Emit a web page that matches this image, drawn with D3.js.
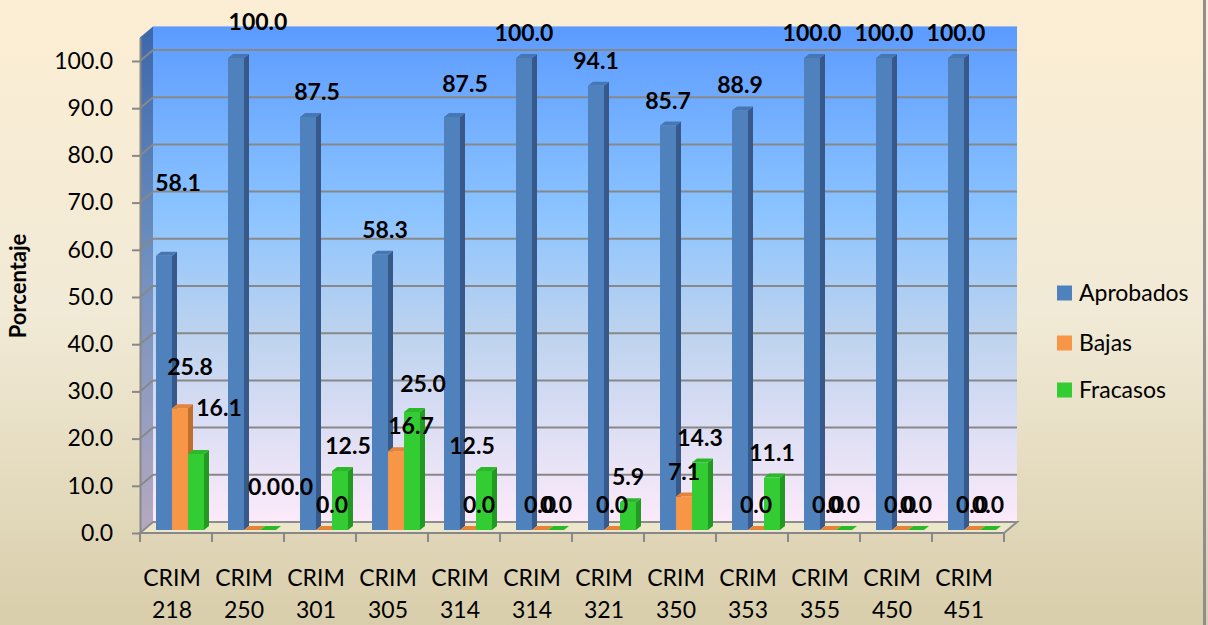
<!DOCTYPE html>
<html>
<head>
<meta charset="utf-8">
<script src="https://cdn.jsdelivr.net/npm/d3@7"></script>
<style>
body { margin: 0; overflow: hidden; }
text { font-family: Lato, "Open Sans", sans-serif; fill: #000; }
</style>
</head>
<body>
<div id="chart"></div>
<script>
// data
var categories = ['CRIM 218', 'CRIM 250', 'CRIM 301', 'CRIM 305', 'CRIM 314', 'CRIM 314 ',
	'CRIM 321', 'CRIM 350', 'CRIM 353', 'CRIM 355', 'CRIM 450', 'CRIM 451'];
var aprobados = [58.1, 100.0, 87.5, 58.3, 87.5, 100.0, 94.1, 85.7, 88.9, 100.0, 100.0, 100.0];
var bajas     = [25.8, 0.0, 0.0, 16.7, 0.0, 0.0, 0.0, 7.1, 0.0, 0.0, 0.0, 0.0];
var fracasos  = [16.1, 0.0, 12.5, 25.0, 12.5, 0.0, 5.9, 14.3, 11.1, 0.0, 0.0, 0.0];
var seriesNames = ['Aprobados', 'Bajas', 'Fracasos'];
var yTicks = [0, 10, 20, 30, 40, 50, 60, 70, 80, 90, 100];

var series = [aprobados, bajas, fracasos];
var colors = [
	{ front: '#4F81BD', side: '#36598A', top: '#4777B3' },
	{ front: '#F79646', side: '#C06E2C', top: '#E3843A' },
	{ front: '#33CC33', side: '#229A22', top: '#2BB82B' }
];

var W = 1208, H = 625;
var depthX = 13, depthY = -11;   // back wall offset
var barDX = 5, barDY = -4;       // bar side/top depth

var x = d3.scaleBand()
	.domain(categories)
	.range([140, 1004]);

var y = d3.scaleLinear()
	.domain([0, 105])
	.range([533, 533 - 105 * 4.72]);

var sub = d3.scaleBand()
	.domain(seriesNames)
	.range([0, 48]);

var svg = d3.select('#chart').append('svg')
	.attr('width', W)
	.attr('height', H);

var defs = svg.append('defs');

var bgGrad = defs.append('linearGradient').attr('id', 'bg')
	.attr('x1', 0).attr('y1', 0).attr('x2', 0).attr('y2', 1);
bgGrad.append('stop').attr('offset', 0).attr('stop-color', '#FCEED4');
bgGrad.append('stop').attr('offset', 0.5).attr('stop-color', '#F1EAD6');
bgGrad.append('stop').attr('offset', 1).attr('stop-color', '#D9CEAB');

var wallGrad = defs.append('linearGradient').attr('id', 'wall')
	.attr('x1', 0).attr('y1', 0).attr('x2', 0).attr('y2', 1);
wallGrad.append('stop').attr('offset', 0).attr('stop-color', '#5B9BFF');
wallGrad.append('stop').attr('offset', 0.38).attr('stop-color', '#8CC4FF');
wallGrad.append('stop').attr('offset', 0.62).attr('stop-color', '#BDD3EE');
wallGrad.append('stop').attr('offset', 1).attr('stop-color', '#FCEAFA');

var sideGrad = defs.append('linearGradient').attr('id', 'side')
	.attr('x1', 0).attr('y1', 0).attr('x2', 0).attr('y2', 1);
sideGrad.append('stop').attr('offset', 0).attr('stop-color', '#3C67AA');
sideGrad.append('stop').attr('offset', 0.45).attr('stop-color', '#6D8FBF');
sideGrad.append('stop').attr('offset', 1).attr('stop-color', '#B6A9C0');

svg.append('rect')
	.attr('width', W).attr('height', H)
	.attr('fill', 'url(#bg)');

// right border
svg.append('rect')
	.attr('x', 1203).attr('y', 0)
	.attr('width', 3).attr('height', H)
	.attr('fill', '#8E8E8E');

var x0 = x.range()[0], x1 = x.range()[1];
var yTop = y(105), yBase = y(0);

// back wall
svg.append('rect')
	.attr('x', x0 + depthX).attr('y', yTop + depthY)
	.attr('width', x1 - x0).attr('height', yBase - yTop)
	.attr('fill', 'url(#wall)');

// side wall
svg.append('polygon')
	.attr('points', [[x0, yBase], [x0, yTop], [x0 + depthX, yTop + depthY], [x0 + depthX, yBase + depthY]].join(' '))
	.attr('fill', 'url(#side)');

// floor
svg.append('polygon')
	.attr('points', [[x0, yBase], [x1, yBase], [x1 + depthX, yBase + depthY], [x0 + depthX, yBase + depthY]].join(' '))
	.attr('fill', '#ECE6CB')
	.attr('stroke', '#8C8C8C')
	.attr('stroke-width', 2);

// gridlines
yTicks.forEach(function(t) {
	if (t === 0) return;
	svg.append('line')
		.attr('x1', x0 + depthX).attr('x2', x1 + depthX)
		.attr('y1', y(t) + depthY).attr('y2', y(t) + depthY)
		.attr('stroke', '#888').attr('stroke-width', 2);
	svg.append('line')
		.attr('x1', x0).attr('x2', x0 + depthX)
		.attr('y1', y(t)).attr('y2', y(t) + depthY)
		.attr('stroke', '#888').attr('stroke-width', 2);
});

// y axis
var yAxis = d3.axisLeft(y)
	.tickValues(yTicks)
	.tickFormat(d3.format('.1f'))
	.tickSize(8)
	.tickPadding(19)
	.tickSizeOuter(0);

var yG = svg.append('g')
	.attr('transform', 'translate(' + x0 + ',0)')
	.call(yAxis);
yG.select('.domain').attr('stroke', '#888').attr('stroke-width', 2);
yG.selectAll('.tick line').attr('stroke', '#888').attr('stroke-width', 2);
yG.selectAll('.tick text')
	.style('font-family', 'Lato, sans-serif')
	.style('font-size', '23px')
	.attr('fill', '#000');

// x axis line + boundary ticks
svg.append('line')
	.attr('x1', x0).attr('x2', x1)
	.attr('y1', yBase).attr('y2', yBase)
	.attr('stroke', '#888').attr('stroke-width', 2);

var bounds = categories.map(function(c) { return x(c); }).concat([x1]);
svg.selectAll('.xtick')
	.data(bounds)
	.enter().append('line')
	.attr('class', 'xtick')
	.attr('x1', function(d) { return d; })
	.attr('x2', function(d) { return d; })
	.attr('y1', yBase).attr('y2', yBase + 9)
	.attr('stroke', '#888').attr('stroke-width', 2);

// category labels
var catText = svg.selectAll('.cat')
	.data(categories)
	.enter().append('text')
	.attr('class', 'cat')
	.attr('text-anchor', 'middle')
	.style('font-size', '23px');
catText.append('tspan')
	.attr('x', function(d) { return x(d) + x.bandwidth() / 2 - 4; })
	.attr('y', 586)
	.text(function(d) { return d.trim().split(' ')[0]; });
catText.append('tspan')
	.attr('x', function(d) { return x(d) + x.bandwidth() / 2 - 4; })
	.attr('y', 618)
	.text(function(d) { return d.trim().split(' ')[1]; });

// bars, left to right so nearer faces cover the side faces
var barBase = y(0) - 3;
var bars = [];
categories.forEach(function(c, i) {
	seriesNames.forEach(function(s, k) {
		bars.push({ cat: c, i: i, k: k, value: series[k][i] });
	});
});

var barG = svg.append('g');
bars.forEach(function(b) {
	var bx = x(b.cat) + 16 + sub(seriesNames[b.k]);
	var bw = sub.bandwidth();
	var top = y(b.value) - 3;
	var col = colors[b.k];
	b.cx = bx + bw / 2;
	b.top = top;

	barG.append('polygon')
		.attr('points', [[bx + bw, barBase], [bx + bw, top], [bx + bw + barDX, top + barDY], [bx + bw + barDX, barBase + barDY]].join(' '))
		.attr('fill', col.side);
	barG.append('rect')
		.attr('x', bx).attr('y', top)
		.attr('width', bw).attr('height', barBase - top)
		.attr('fill', col.front);
	barG.append('polygon')
		.attr('points', [[bx, top], [bx + bw, top], [bx + bw + barDX, top + barDY], [bx + barDX, top + barDY]].join(' '))
		.attr('fill', col.top);
});

// label nudges where the original moved labels apart
var nudge = {
	'0-0': [14, -48], '0-1': [10, -16], '0-2': [23, -21],
	'1-0': [22, -11], '1-1': [12, -18], '1-2': [29, -18],
	'2-0': [9, 0], '2-1': [8, 0], '2-2': [8, 0],
	'3-0': [5, 0], '3-1': [15, 0], '3-2': [11, -3],
	'4-0': [13, -8], '4-1': [11, 0], '4-2': [-12, 0]
};

svg.selectAll('.lbl')
	.data(bars)
	.enter().append('text')
	.attr('class', 'lbl')
	.attr('text-anchor', 'middle')
	.attr('dy', '0.35em')
	.style('font-size', '23px')
	.style('font-weight', 'bold')
	.attr('x', function(d) { var n = nudge[d.i + '-' + d.k] || [0, 0]; return d.cx + n[0]; })
	.attr('y', function(d) { var n = nudge[d.i + '-' + d.k] || [0, 0]; return d.top - 25 + n[1]; })
	.text(function(d) { return d3.format('.1f')(d.value); });

// y title
svg.append('text')
	.attr('transform', 'translate(26,286) rotate(-90)')
	.attr('text-anchor', 'middle')
	.style('font-size', '22px')
	.style('font-weight', 'bold')
	.text('Porcentaje');

// legend
var legend = svg.selectAll('.leg')
	.data(seriesNames)
	.enter().append('g')
	.attr('class', 'leg')
	.attr('transform', function(d, i) { return 'translate(1057,' + [293, 343, 390][i] + ')'; });
legend.append('rect')
	.attr('x', 0).attr('y', -7.5)
	.attr('width', 15).attr('height', 15)
	.attr('fill', function(d, i) { return colors[i].front; });
legend.append('text')
	.attr('x', 22).attr('dy', '0.35em')
	.style('font-size', '23px')
	.text(function(d) { return d; });
</script>
</body>
</html>
